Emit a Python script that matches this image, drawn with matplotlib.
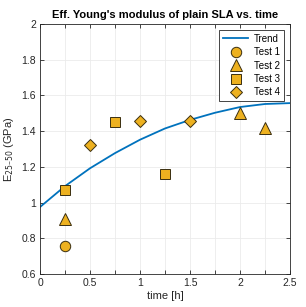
import numpy as np
import matplotlib.pyplot as plt

plt.rcParams['font.family'] = ['Liberation Sans', 'DejaVu Sans']

# trend line
trend_t = [0, 0.25, 0.5, 0.75, 1.0, 1.25, 1.5, 1.75, 2.0, 2.25, 2.5]
trend_E = [0.975, 1.092, 1.192, 1.277, 1.352, 1.415, 1.463, 1.503, 1.535, 1.552, 1.557]

t1 = [0.25]
e1 = [0.755]
t2 = [0.25, 2.0, 2.25]
e2 = [0.91, 1.50, 1.42]
t3 = [0.25, 0.75, 1.25]
e3 = [1.07, 1.45, 1.16]
t4 = [0.5, 1.0, 1.5]
e4 = [1.325, 1.455, 1.455]

fill = '#EDB120'
edge = '#3a2e10'


def main():
    fig = plt.figure(figsize=(3.06, 3.07), dpi=100)
    ax = fig.add_axes([40 / 306, 33 / 307, 250 / 306, 250 / 307])

    ax.plot(trend_t, trend_E, color='#0072BD', lw=1.3, label='Trend')
    ax.plot(t1, e1, 'o', ms=7.5, mfc=fill, mec=edge, mew=0.7, label='Test 1')
    ax.plot(t2, e2, '^', ms=8, mfc=fill, mec=edge, mew=0.7, label='Test 2')
    ax.plot(t3, e3, 's', ms=6.5, mfc=fill, mec=edge, mew=0.7, label='Test 3')
    ax.plot(t4, e4, 'D', ms=6.5, mfc=fill, mec=edge, mew=0.7, label='Test 4')

    ax.set_xlim(0, 2.5)
    ax.set_ylim(0.6, 2.0)
    xt = np.arange(0, 2.51, 0.25)
    ax.set_xticks(xt)
    ax.set_xticklabels([('%g' % v) if abs(v * 2 - round(v * 2)) < 1e-9 else '' for v in xt])
    ax.set_yticks(np.arange(0.6, 2.01, 0.2))
    ax.set_yticklabels(['0.6', '0.8', '1', '1.2', '1.4', '1.6', '1.8', '2'])
    ax.grid(True, color='#ebebeb', lw=0.6)
    ax.set_axisbelow(True)
    ax.tick_params(labelsize=7.5, direction='in', length=3, width=0.6,
                   top=True, right=True, colors='#262626', pad=3)
    for s in ax.spines.values():
        s.set_color('#262626')
        s.set_linewidth(0.6)

    ax.set_xlabel('time [h]', fontsize=8, color='#262626', labelpad=2)
    ax.set_ylabel('E$_{25\u201350}$ (GPa)', fontsize=8, color='#262626', labelpad=4)
    ax.set_title("Eff. Young's modulus of plain SLA vs. time", fontsize=8,
                 fontweight='bold', pad=4)

    leg = ax.legend(loc='upper right', fontsize=7, fancybox=False, framealpha=1,
                    edgecolor='#262626', handlelength=2.6, handletextpad=0.6,
                    borderaxespad=0.6, labelspacing=0.35, borderpad=0.4)
    leg.get_frame().set_linewidth(0.6)

    fig.savefig('out.png', dpi=100)


if __name__ == "__main__":
    main()
